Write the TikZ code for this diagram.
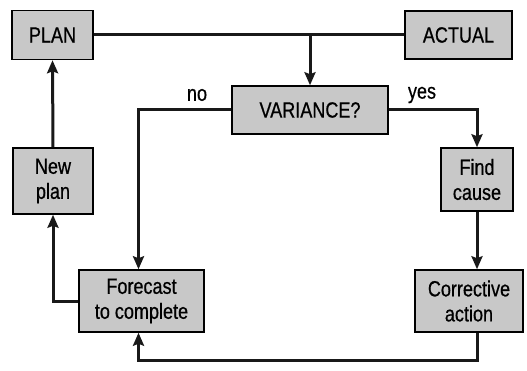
\documentclass[tikz,border=0pt]{standalone}
\usepackage{fontspec}
\setmainfont{Liberation Sans}[FakeStretch=0.82,FakeBold=0.6]
\usetikzlibrary{arrows.meta}
\definecolor{boxgray}{RGB}{200,200,200}
\begin{document}
\begin{tikzpicture}[x=1pt,y=-1pt,
  box/.style={draw=black, line width=1.5pt, fill=boxgray, inner sep=0pt, align=center,
    font=\fontsize{22}{25}\selectfont},
  conn/.style={line width=3pt, draw=black!90},
  arr/.style={conn, -{Stealth[length=13pt,width=11pt,inset=2pt]}},
  lbl/.style={font=\fontsize{22}{25}\selectfont}]
\useasboundingbox (0,0) rectangle (527,371);
\node[box, minimum width=81pt, minimum height=49pt] (plan) at (52.5,35) {PLAN};
\node[box, minimum width=107pt, minimum height=48pt] (actual) at (458.5,35) {ACTUAL};
\node[box, minimum width=156pt, minimum height=48pt] (var) at (310,110) {VARIANCE?};
\node[box, minimum width=80pt, minimum height=66pt] (np) at (53,181) {New\\plan};
\node[box, minimum width=72pt, minimum height=63pt] (find) at (477,179.5) {Find\\cause};
\node[box, minimum width=125pt, minimum height=62pt] (fc) at (141.5,301) {Forecast\\to complete};
\node[box, minimum width=108pt, minimum height=62pt] (corr) at (469,301) {Corrective\\action};
\node[lbl] (no) at (197,95) {no};
\node[lbl] (yes) at (422,95) {yes};
\coordinate (fcin) at ([xshift=-3pt]fc.north);
\coordinate (fcbot) at ([xshift=-3pt]fc.south);
\coordinate (low) at (0,360);
\draw[conn] (plan.east) -- (actual.west);
\draw[arr] (plan.east -| var.north) -- (var.north);
\draw[arr] (var.west) -| (fcin);
\draw[arr] (var.east) -| (find.north);
\draw[arr] (find.south) -- (find.south |- corr.north);
\draw[arr] (find.south |- corr.south) -- (find.south |- low) -| (fcbot);
\draw[arr] (fc.west) -| (np.south);
\draw[arr] (np.north) -- (plan.south);
\end{tikzpicture}
\end{document}
